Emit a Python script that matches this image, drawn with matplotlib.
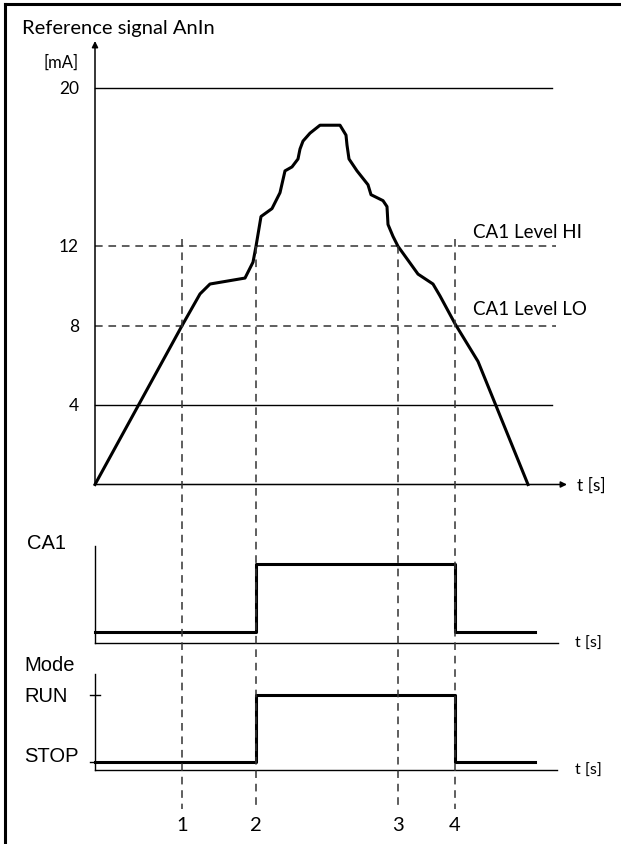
import matplotlib
matplotlib.use("Agg")
import matplotlib.pyplot as plt
from matplotlib.lines import Line2D

# Reference signal AnIn [mA] over time (time in arbitrary units)
signal_t = [0.0, 8.7, 10.5, 11.5, 15.0, 15.8, 16.1, 16.6, 17.7, 18.5, 19.0, 19.7,
            20.3, 20.5, 20.8, 21.5, 22.5, 24.5, 25.1, 25.2, 25.4, 26.2, 27.3, 27.6,
            28.8, 29.2, 29.3, 29.8, 30.3, 32.3, 33.8, 34.5, 36.0, 38.3, 43.3]
signal_ma = [0.0, 8.0, 9.6, 10.1, 10.4, 11.2, 12.0, 13.5, 13.9, 14.7, 15.8, 16.0,
             16.4, 16.9, 17.3, 17.7, 18.1, 18.1, 17.6, 17.1, 16.4, 15.8, 15.1, 14.6,
             14.3, 14.0, 13.1, 12.5, 12.0, 10.6, 10.1, 9.5, 8.1, 6.2, 0.0]

level_hi = 12
level_lo = 8
solid_levels = [20, 4]
tick_values = [20, 12, 8, 4]

# event times 1..4
event_t = [8.7, 16.1, 30.3, 36.0]
event_labels = ["1", "2", "3", "4"]

# CA1 output and run mode (0 = low/STOP, 1 = high/RUN)
state_t = [0.0, 16.1, 36.0, 44.0]
ca1_state = [0, 1, 0, 0]
mode_state = [0, 1, 0, 0]

W, H = 621, 845
FONT = ["Lato", "DejaVu Sans"]
ARIAL = ["Liberation Sans", "DejaVu Sans"]
plt.rcParams["font.family"] = FONT

fig = plt.figure(figsize=(W / 100, H / 100), dpi=100)


def px_to_t(px):
    return (px - 95) / 10.0


def panel(py_top, py_bot, v_top, v_bot):
    ax = fig.add_axes([0, 1 - py_bot / H, 1, (py_bot - py_top) / H])
    ax.set_xlim(px_to_t(0), px_to_t(W))
    ax.set_ylim(v_bot, v_top)
    ax.axis("off")
    return ax


# --- top panel: reference signal ---
mA_px = 19.85
ax = panel(30, 500, (485.5 - 30) / mA_px, (485.5 - 500) / mA_px)
ax.annotate("", xy=(0, (485.5 - 42) / mA_px), xytext=(0, 0),
            arrowprops=dict(arrowstyle="-|>", lw=1.1, color="k",
                            mutation_scale=9, shrinkA=0, shrinkB=0))
ax.annotate("", xy=(px_to_t(567), 0), xytext=(0, 0),
            arrowprops=dict(arrowstyle="-|>", lw=1.1, color="k",
                            mutation_scale=9, shrinkA=0, shrinkB=0))
for lv in solid_levels:
    ax.plot([0, px_to_t(552)], [lv, lv], color="k", lw=1.0)
for lv in (level_hi, level_lo):
    ax.plot([0, px_to_t(556)], [lv, lv], color="#333333", lw=1.1,
            dashes=(5, 3.8))
ax.plot(signal_t, signal_ma, color="k", lw=2.2, solid_joinstyle="round")
for v in tick_values:
    ax.text(px_to_t(79), v, str(v), ha="right", va="center", fontsize=12.5)
ax.text(px_to_t(79), (485.5 - 63) / mA_px, "[mA]", ha="right", va="center",
        fontsize=12)
ax.text(px_to_t(22), (485.5 - 28) / mA_px, "Reference signal AnIn",
        ha="left", va="center", fontsize=14.5)
ax.text(px_to_t(473), level_hi + 0.75, "CA1 Level HI", ha="left",
        va="center", fontsize=13.5)
ax.text(px_to_t(473), level_lo + 0.85, "CA1 Level LO", ha="left",
        va="center", fontsize=13.5)
ax.text(px_to_t(577), 0, "t [s]", ha="left", va="center", fontsize=12.5)

# --- CA1 panel ---
ca1_px = 68.0
ax2 = panel(535, 655, (633 - 535) / ca1_px, (633 - 655) / ca1_px)
base2 = (633 - 644) / ca1_px
ax2.plot([0, 0], [base2, (633 - 547) / ca1_px], color="k", lw=1.0)
ax2.plot([0, px_to_t(558)], [base2, base2], color="k", lw=1.0)
ax2.step(state_t, ca1_state, where="post", color="k", lw=2.2)
ax2.text(px_to_t(575), base2, "t [s]", ha="left", va="center", fontsize=11.5)
ax2.text(px_to_t(27), (633 - 544) / ca1_px, "CA1", ha="left", va="center",
         fontsize=14.5, family=ARIAL)

# --- Mode panel ---
mode_px = 67.0
ax3 = panel(660, 785, (763 - 660) / mode_px, (763 - 785) / mode_px)
base3 = (763 - 771) / mode_px
ax3.plot([0, 0], [base3, (763 - 675) / mode_px], color="k", lw=1.0)
ax3.plot([0, px_to_t(557)], [base3, base3], color="k", lw=1.0)
for lv in (0, 1):
    ax3.plot([px_to_t(90), px_to_t(100)], [lv, lv], color="k", lw=1.0)
ax3.step(state_t, mode_state, where="post", color="k", lw=2.2)
ax3.text(px_to_t(575), base3, "t [s]", ha="left", va="center", fontsize=11.5)
ax3.text(px_to_t(24), (763 - 666) / mode_px, "Mode", ha="left", va="center",
         fontsize=14.5, family=ARIAL)
ax3.text(px_to_t(24), (763 - 697) / mode_px, "RUN", ha="left", va="center",
         fontsize=14.5, family=ARIAL)
ax3.text(px_to_t(24), (763 - 757) / mode_px, "STOP", ha="left", va="center",
         fontsize=14.5, family=ARIAL)

# --- event guide lines spanning all panels (y in pixel rows) ---
axg = panel(0, H, 0, H)
axg.set_ylim(H, 0)
starts = [240, 247, 247, 240]
for t, y0, lab in zip(event_t, starts, event_labels):
    axg.plot([t, t], [y0, 810], color="#333333", lw=1.1, dashes=(5, 3.8))
    axg.text(t, 826, lab, ha="center", va="center", fontsize=14.5)

# frame along top and left edge
fig.add_artist(Line2D([5 / W, 1], [1 - 5 / H, 1 - 5 / H], color="k", lw=2.2,
                      transform=fig.transFigure))
fig.add_artist(Line2D([5 / W, 5 / W], [0, 1 - 5 / H], color="k", lw=2.2,
                      transform=fig.transFigure))

fig.savefig("out.png", dpi=100)
